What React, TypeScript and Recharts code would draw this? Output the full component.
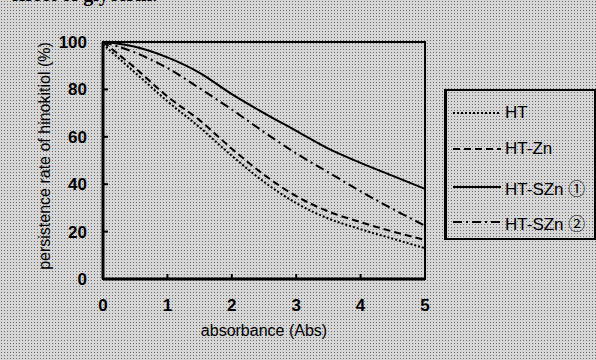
import { LineChart, Line, XAxis, YAxis, ReferenceArea, Legend } from 'recharts'

// absorbance (Abs) on the x axis
const absorbance = [0, 0.5, 1, 1.5, 2, 2.5, 3, 3.5, 4, 4.5, 5]

// persistence rate of hinokitiol (%) per series
const ht = [99, 87, 75, 64, 52, 41, 32, 25.5, 21, 17, 13]
const htZn = [100, 89, 77, 67, 55, 44, 35, 28.5, 24, 20, 16.5]
const htSZn1 = [100, 98, 93.5, 87, 78, 70, 62.5, 55, 49, 43.5, 38]
const htSZn2 = [100, 95.5, 89, 80.5, 71.5, 62, 53, 45, 37, 29.5, 22.5]

const xTicks = [0, 1, 2, 3, 4, 5]
const yTicks = [0, 20, 40, 60, 80, 100]

const seriesNames = ['HT', 'HT-Zn', 'HT-SZn ①', 'HT-SZn ②']
const seriesKeys = ['ht', 'htZn', 'htSZn1', 'htSZn2']
const seriesDash = ['2 2', '7 4', '', '9 4 2 4']

const data = absorbance.map((x, i) => ({
  x,
  ht: ht[i],
  htZn: htZn[i],
  htSZn1: htSZn1[i],
  htSZn2: htSZn2[i],
}))

const font = '"Liberation Sans Narrow", "Liberation Sans", Arial, "Noto Sans CJK JP", sans-serif'
const paper = {
  backgroundColor: '#d6d6d6',
  backgroundImage: 'radial-gradient(circle, #6a6a6a 0.7px, transparent 0.9px)',
  backgroundSize: '3px 3px',
}

function LegendBox() {
  return (
    <div
      style={{
        width: 147,
        height: 147,
        border: '2px solid #000',
        borderLeftWidth: 3,
        position: 'relative',
        fontFamily: font,
        fontSize: 17,
        color: '#000',
        ...paper,
      }}
    >
      {seriesNames.map((name, i) => (
        <div key={name} style={{ position: 'absolute', left: 6, top: [12, 48, 86, 121][i], display: 'flex', alignItems: 'center', height: 20 }}>
          <svg width={48} height={6}>
            <line x1={0} y1={3} x2={48} y2={3} stroke="#000" strokeWidth={2} strokeDasharray={seriesDash[i] || undefined} />
          </svg>
          <span style={{ marginLeft: 4, whiteSpace: 'nowrap' }}>{name}</span>
        </div>
      ))}
    </div>
  )
}

export default function App() {
  return (
    <div style={{ position: 'absolute', left: 0, top: 0, width: 596, height: 360, overflow: 'hidden', ...paper }}>
      <div
        style={{
          position: 'absolute',
          left: 10,
          top: -17,
          fontFamily: '"Liberation Serif", "Times New Roman", serif',
          fontWeight: 'bold',
          fontSize: 20,
          color: '#000',
          whiteSpace: 'nowrap',
        }}
      >
        effect of glycerin.
      </div>
      <LineChart width={596} height={360} data={data} margin={{ top: 42, right: 171, bottom: 31, left: 0 }}>
        <ReferenceArea x1={0} x2={5} y1={0} y2={100} fill="none" stroke="#000" strokeWidth={2} ifOverflow="visible" />
        <XAxis
          dataKey="x"
          type="number"
          domain={[0, 5]}
          ticks={xTicks}
          height={50}
          tickSize={-5}
          tickMargin={25}
          axisLine={{ stroke: '#000', strokeWidth: 3 }}
          tickLine={{ stroke: '#000', strokeWidth: 2 }}
          tick={{ fontSize: 17, fill: '#000', fontFamily: font, fontWeight: 'bold' }}
          label={{ value: 'absorbance (Abs)', position: 'bottom', offset: -4, fill: '#000', fontSize: 16, fontFamily: font }}
        />
        <YAxis
          type="number"
          domain={[0, 100]}
          ticks={yTicks}
          width={103}
          tickSize={-5}
          tickMargin={21}
          axisLine={{ stroke: '#000', strokeWidth: 3 }}
          tickLine={{ stroke: '#000', strokeWidth: 2 }}
          tick={{ fontSize: 17, fill: '#000', fontFamily: font, fontWeight: 'bold' }}
          label={{
            content: () => (
              <text x={44} y={156} transform="rotate(-90 44 156)" textAnchor="middle" dominantBaseline="central" fill="#000" fontSize={16} fontFamily={font}>
                persistence rate of hinokitiol (%)
              </text>
            ),
          }}
        />
        {seriesKeys.map((k, i) => (
          <Line
            key={k}
            dataKey={k}
            name={seriesNames[i]}
            type="monotone"
            stroke="#000"
            strokeWidth={2}
            strokeDasharray={seriesDash[i] || undefined}
            dot={false}
            isAnimationActive={false}
          />
        ))}
        <Legend
          layout="horizontal"
          verticalAlign="middle"
          align="center"
          wrapperStyle={{ left: 444, top: 89, width: 152, height: 152 }}
          content={() => <LegendBox />}
        />
      </LineChart>
    </div>
  )
}
